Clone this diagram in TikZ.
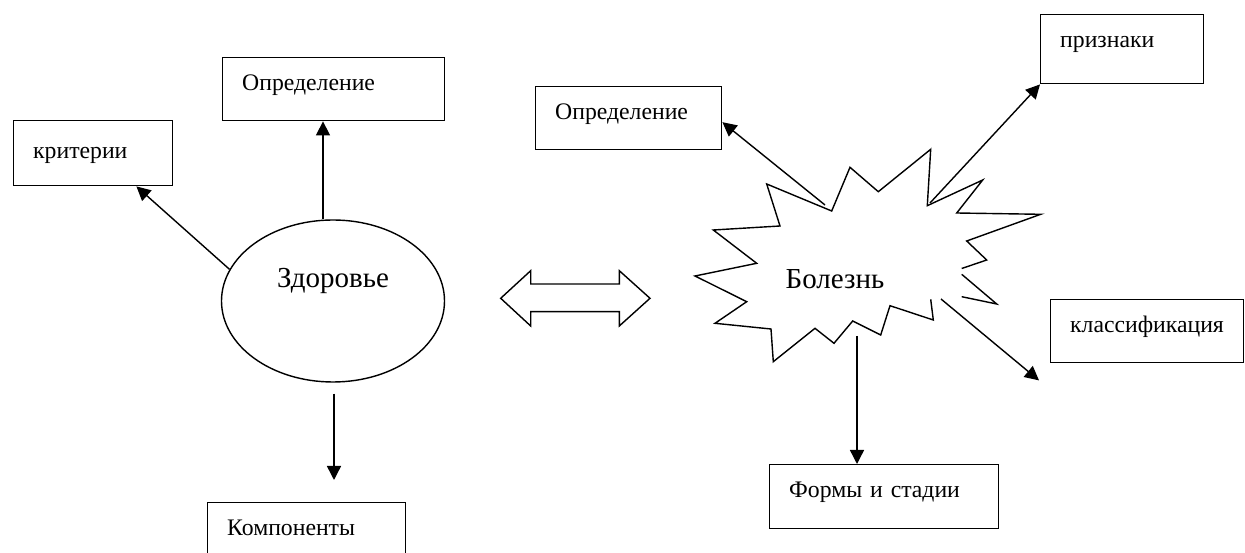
\documentclass[tikz,border=0pt]{standalone}
\usepackage{fontspec}
\setmainfont{Liberation Serif}
\usetikzlibrary{arrows.meta,shapes.geometric}
\hyphenpenalty=10000
\newlength{\pxu}
\setlength{\pxu}{0.02cm}

\begin{document}
\begin{tikzpicture}[x=0.02cm,y=-0.02cm,line width=0.8pt,line join=miter,
        box/.style={draw, anchor=north west, inner xsep=19.5\pxu, inner ysep=0pt,
            text height=33\pxu, text depth=31\pxu, align=left,
            font=\fontsize{13.5}{16}\selectfont},
        big/.style={font=\fontsize{16.5}{19}\selectfont},
        arr/.style={-{Triangle[length=8pt,width=8pt]}}]
    \useasboundingbox (0,0) rectangle (1245,553);
    \clip (0,0) rectangle (1245,553);

    % left part
    \node[ellipse, draw, big, inner sep=0pt, minimum width=223\pxu, minimum height=162\pxu,
        text height=20\pxu, text depth=46\pxu] (zdr) at (333,301) {Здоровье};
    \node[box, text width=120\pxu, text height=38\pxu, text depth=27\pxu] (krit) at (13,120) {критерии};
    \node[box, text width=183\pxu, text depth=30\pxu] (opr1) at (222,57) {Определение};
    \node[box, text width=159\pxu] (komp) at (207,502) {Компоненты};

    \coordinate (z1) at ([xshift=-10\pxu]zdr.north);
    \coordinate (z3) at ([xshift=1\pxu,yshift=-11\pxu]zdr.south);
    \draw[arr] (z1) -- (z1 |- opr1.south);
    \draw[arr] (zdr.163) -- ([xshift=-37\pxu]krit.south east);
    \draw[arr, shorten >=22\pxu] (z3) -- (z3 |- komp.north); % stops short of the box

    % double arrow
    \draw (500.7,298.3) -- (530.7,270.7) -- (530.7,284) -- (619.3,284) -- (619.3,270.7)
        -- (650,298.3) -- (619.3,326) -- (619.3,311.7) -- (530.7,311.7) -- (530.7,326) -- cycle;

    % right part: starburst
    \draw (961.7,274.3) -- (996.7,304) -- (961.7,296.7)
        (930.7,299.3) -- (933.3,320) -- (890,305.7) -- (880.7,335) -- (852.7,321)
        -- (834,343.3) -- (815,328.3) -- (773.3,361.7) -- (771,329) -- (715,323.3)
        -- (746.7,301.7) -- (695,276) -- (756.7,263.3) -- (713.3,230) -- (780,226)
        -- (766.7,184) -- (831.7,211) -- (850,167.3) -- (878.3,191.7) -- (930.7,149.3)
        -- (927.3,205.7) -- (982.7,180) -- (956.7,213) -- (1040.7,214.3) -- (966.7,241)
        -- (986.7,260) -- (961.7,268.5);
    \node[big] (bol) at (835,279) {Болезнь};

    \node[box, text width=147\pxu, text depth=30\pxu] (opr2) at (535,86) {Определение};
    \node[box, text width=124\pxu, text depth=36\pxu] (priz) at (1040,14) {признаки};
    \node[box, text width=154\pxu, text depth=30\pxu] (klass) at (1050,299) {классификация};
    \node[box, text width=190\pxu] (forms) at (769,464) {Формы и стадии};

    \coordinate (bopr) at (825,205);
    \coordinate (bpriz) at (930,203);
    \coordinate (bklass) at (941,299);
    \coordinate (bform) at (857,336);
    \draw[arr] (bopr) -- ([yshift=-4\pxu]opr2.east);
    \draw[arr] (bpriz) -- (priz.south west);
    \draw[arr] (bklass) -- ([shift={(-11,17)}]klass.south west);
    \draw[arr] (bform) -- (bform |- forms.north);
\end{tikzpicture}
\end{document}
